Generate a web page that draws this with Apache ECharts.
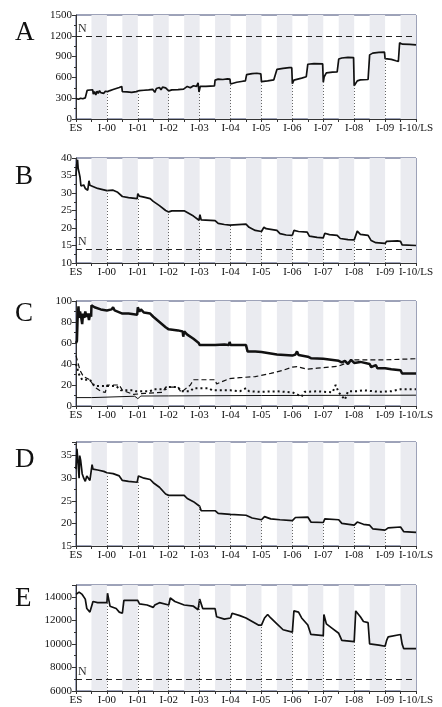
<!DOCTYPE html>
<html>
<head>
<meta charset="utf-8">
<script src="https://cdn.jsdelivr.net/npm/echarts@6/dist/echarts.min.js"></script>
<style>
  html, body { margin: 0; padding: 0; background: #fff; }
  #myChart { width: 442px; height: 707px; }
</style>
</head>
<body>
<div id="myChart"></div>
<script>
  // x labels (ES, intervals, last season)
  const xLabels = ['ES', 'I-00', 'I-01', 'I-02', 'I-03', 'I-04', 'I-05', 'I-06', 'I-07', 'I-08', 'I-09', 'I-10/LS']

  // A
  const seriesA = [[0,295],[0.08,285],[0.15,300],[0.22,292],[0.3,305],[0.34,318],[0.36,412],[0.45,418],[0.54,420],[0.56,360],[0.6,395],[0.64,345],[0.68,400],[0.72,370],[0.76,410],[0.8,380],[0.85,395],[0.9,370],[0.95,400],[1.0,385],[1.02,395],[1.1,410],[1.2,425],[1.3,440],[1.4,455],[1.48,470],[1.5,395],[1.55,370],[1.65,390],[1.8,385],[1.95,395],[2.0,400],[2.05,410],[2.2,415],[2.35,420],[2.48,428],[2.52,440],[2.55,385],[2.6,440],[2.7,455],[2.75,420],[2.8,460],[2.9,450],[2.96,460],[3.0,405],[3.1,420],[3.3,425],[3.48,430],[3.52,455],[3.6,470],[3.7,450],[3.8,480],[3.9,470],[3.95,520],[3.98,390],[4.02,470],[4.2,470],[4.48,478],[4.5,560],[4.6,575],[4.75,570],[4.9,580],[4.98,575],[5.0,505],[5.05,525],[5.2,530],[5.4,545],[5.48,550],[5.52,640],[5.7,655],[5.85,660],[5.98,650],[6.0,540],[6.05,525],[6.2,550],[6.4,565],[6.46,575],[6.5,715],[6.7,730],[6.9,740],[6.98,740],[7.0,510],[7.05,560],[7.1,585],[7.3,590],[7.45,610],[7.5,790],[7.7,800],[7.98,795],[8.0,530],[8.03,610],[8.1,665],[8.3,675],[8.45,680],[8.5,865],[8.6,880],[8.8,890],[8.98,885],[9.0,480],[9.05,500],[9.1,550],[9.2,565],[9.45,570],[9.5,925],[9.6,950],[9.8,960],[9.98,965],[10.0,870],[10.2,860],[10.35,840],[10.43,830],[10.47,1100],[10.55,1080],[10.8,1075],[11,1070]]
  const nA = 1200

  // B
  const seriesB = [[0,35],[0.02,38],[0.05,39.5],[0.07,37],[0.1,35.8],[0.13,34.5],[0.16,32],[0.2,31.8],[0.25,32.3],[0.3,31.3],[0.35,31.5],[0.38,30.8],[0.42,33.5],[0.45,32.2],[0.5,31.7],[0.7,31.3],[0.9,30.9],[1.0,30.7],[1.05,31.1],[1.2,30.8],[1.35,30.2],[1.5,29],[1.7,28.7],[1.98,28.4],[2.0,29.8],[2.05,29.1],[2.2,28.8],[2.4,28.4],[2.5,27.6],[2.7,26.4],[2.9,25],[3.0,24.6],[3.1,24.9],[3.5,24.9],[3.6,24.4],[3.8,23.4],[3.98,22.2],[4.01,23.8],[4.05,22.3],[4.5,22.1],[4.6,21.3],[4.8,21],[4.98,20.8],[5.02,21.3],[5.5,21.1],[5.6,20.2],[5.8,19.3],[6.0,19],[6.08,20.2],[6.15,19.8],[6.5,19.3],[6.6,18.4],[6.8,18],[7.0,17.9],[7.05,19.3],[7.2,19],[7.48,18.8],[7.55,17.7],[7.8,17.3],[8.0,17.2],[8.05,18.5],[8.2,18.1],[8.45,17.9],[8.55,17],[8.8,16.7],[9.0,16.6],[9.1,19.1],[9.2,18.2],[9.45,17.9],[9.55,16.4],[9.7,15.8],[10.0,15.6],[10.05,16.2],[10.4,16.3],[10.5,16.2],[10.55,15.2],[11,15]]
  const nB = 14

  // C (four lines)
  const seriesC1 = [[0,60],[0.03,62],[0.05,82],[0.08,95],[0.1,84],[0.13,90],[0.16,86],[0.2,78],[0.23,88],[0.27,84],[0.3,90],[0.34,85],[0.38,88],[0.42,82],[0.46,88],[0.49,85],[0.5,96],[0.6,94],[0.8,92],[1.0,91],[1.15,92],[1.2,94],[1.25,91],[1.5,88],[1.7,88],[1.98,87],[2.0,94],[2.05,90],[2.1,92],[2.2,89],[2.4,88],[2.5,85],[2.7,80],[2.9,75],[3.0,73],[3.3,72],[3.45,71],[3.47,66],[3.5,71],[3.6,68],[3.8,64],[3.97,60],[4.0,58],[4.5,58],[4.8,58.5],[4.95,58],[4.97,61],[5.0,58],[5.5,58],[5.55,52],[5.8,52],[6.0,51.5],[6.3,50],[6.5,49],[7.0,48],[7.1,49],[7.15,52],[7.2,48.5],[7.5,47],[7.6,45.5],[8.0,45],[8.5,43],[8.6,41.5],[8.7,43],[8.8,40],[8.9,44],[9.0,41],[9.2,42],[9.5,40],[9.55,37],[9.7,39],[9.75,36],[10.0,36],[10.2,35],[10.5,34],[10.55,31],[11,31]]
  const seriesC2 = [[0,48],[0.13,34],[0.24,28],[0.45,25],[0.6,18],[0.8,14],[0.95,13],[1.0,20],[1.4,20],[1.5,15],[1.86,11],[2.2,12],[2.8,13],[2.9,18],[3.3,18],[3.4,13],[3.7,20],[3.8,25],[4.5,25],[4.55,21],[4.95,26],[5.3,27],[5.8,28],[6.3,31],[6.7,34],[7.0,37],[7.15,37.5],[7.47,35],[7.8,36],[8.5,38],[9.0,44],[10.0,44],[11,45]]
  const seriesC3 = [[0,40],[0.1,30],[0.2,25],[0.45,25],[0.5,24],[0.6,19],[0.95,19],[1.3,19],[1.45,15],[1.85,15],[1.95,14],[2.4,14],[2.5,16],[2.9,16],[3.0,18],[3.3,18],[3.4,14],[3.7,14],[3.8,17],[4.3,17],[4.4,15],[5.0,15],[5.3,14],[5.5,17],[5.6,14],[6.0,13.5],[6.5,14],[7.0,13],[7.3,9],[7.4,13.5],[7.8,14],[8.3,13],[8.4,20],[8.5,13],[8.7,6],[8.8,14],[9.1,14],[9.3,15],[9.8,13.5],[10.2,14],[10.5,16],[11,16]]
  const seriesC4 = [[0,8],[0.5,8],[0.55,9.3],[1.9,9.3],[2.0,7],[2.1,9.5],[3.0,9.6],[6.0,10],[11,10.3]]

  // D
  const seriesD = [[0,32],[0.03,36.5],[0.06,34],[0.1,30],[0.12,35],[0.15,34],[0.2,31],[0.25,30],[0.3,29.3],[0.35,30.5],[0.4,30.5],[0.45,29.5],[0.5,29.2],[0.52,33],[0.55,32],[0.7,31.8],[0.9,31.5],[1.0,31.2],[1.2,31],[1.4,30.5],[1.5,29.5],[1.7,29.3],[1.98,29.1],[2.02,30.5],[2.2,30],[2.4,29.7],[2.5,29],[2.7,28],[2.9,26.5],[3.0,26.2],[3.5,26.2],[3.6,25.5],[3.8,24.8],[4.0,23.8],[4.05,22.8],[4.5,22.8],[4.6,22.2],[5.0,22],[5.5,21.8],[5.7,21.2],[6.0,20.8],[6.1,21.5],[6.3,21],[6.6,20.8],[7.0,20.6],[7.1,21.3],[7.5,21.4],[7.6,20.3],[8.0,20.2],[8.05,21],[8.5,20.8],[8.6,20],[9.0,19.6],[9.1,20.3],[9.3,19.8],[9.5,19.6],[9.6,18.8],[10.0,18.5],[10.1,19],[10.5,19.2],[10.6,18.2],[11,18]]

  // E
  const seriesE = [[0,14200],[0.1,14400],[0.2,14200],[0.3,13800],[0.35,13000],[0.45,12700],[0.5,12800],[0.55,13600],[0.7,13500],[0.9,13500],[1.0,13500],[1.02,14300],[1.1,13200],[1.3,13000],[1.4,12700],[1.5,12600],[1.55,13700],[1.6,13800],[2.0,13700],[2.05,13400],[2.3,13300],[2.5,13100],[2.55,13300],[2.7,13500],[3.0,13300],[3.05,13900],[3.2,13600],[3.5,13300],[3.8,13200],[3.95,12900],[4.0,13800],[4.1,13000],[4.5,13000],[4.55,12300],[4.8,12100],[5.0,12200],[5.05,12600],[5.3,12400],[5.5,12200],[5.7,11900],[5.9,11600],[6.0,11600],[6.05,11700],[6.1,12200],[6.2,12500],[6.3,12200],[6.5,11700],[6.7,11200],[7.0,11000],[7.05,12800],[7.2,12700],[7.3,12200],[7.5,11600],[7.6,10800],[8.0,10700],[8.02,12500],[8.1,11700],[8.3,11300],[8.5,10900],[8.6,10300],[9.0,10200],[9.05,12800],[9.2,12300],[9.3,11900],[9.45,11800],[9.5,10000],[9.8,9900],[10.0,9800],[10.05,10300],[10.1,10600],[10.5,10800],[10.55,10000],[10.6,9600],[11,9600]]
  const nE = 7000

  const FONT = 'Liberation Serif'

  // last value at or before t, for the dotted drop lines
  function valAt(d, t) {
    let v = d[0][1]
    for (const p of d) {
      if (p[0] <= t) v = p[1]
    }
    return v
  }

  function dropLines(d, ymin) {
    const out = []
    for (let i = 1; i <= 10; i++) {
      out.push([
        { coord: [i, ymin], lineStyle: { type: [1, 2], color: '#666', width: 1 }, label: { show: false } },
        { coord: [i, valAt(d, i)] }
      ])
    }
    return out
  }

  function nLine(v) {
    return {
      yAxis: v,
      lineStyle: { type: [6, 4], color: '#222', width: 1.2 },
      label: { show: true, formatter: 'N', position: 'insideStartTop', distance: [2, 1], fontFamily: FONT, fontSize: 12, color: '#333' }
    }
  }

  // panel layout: top, height, y range
  const panels = [
    { top: 15, height: 104, min: 0, max: 1500, interval: 300 },
    { top: 158, height: 105, min: 10, max: 40, interval: 5 },
    { top: 301, height: 105, min: 0, max: 100, interval: 20 },
    { top: 442, height: 104, min: 15, max: 38, interval: 5 },
    { top: 585, height: 106, min: 6000, max: 15000, interval: 2000 }
  ]
  const letters = ['A', 'B', 'C', 'D', 'E']
  const letterTop = [14, 158, 295, 441, 580]

  const grids = []
  const xAxes = []
  const yAxes = []
  const titles = []
  panels.forEach((p, i) => {
    grids.push({ left: 76, right: 26, top: p.top, height: p.height, show: true, borderColor: '#3c4672', borderWidth: 1 })
    xAxes.push({
      gridIndex: i, type: 'value', min: 0, max: 11, interval: 0.5,
      axisLine: { lineStyle: { color: '#333' } },
      axisTick: { length: 3, lineStyle: { color: '#333' } },
      axisLabel: {
        formatter: v => Number.isInteger(v) ? xLabels[v] : '',
        fontFamily: FONT, fontSize: 11, color: '#111', margin: 4
      },
      splitLine: { show: false },
      splitArea: { show: true, areaStyle: { color: ['rgba(255,255,255,0)', '#eaebf0'] } }
    })
    yAxes.push({
      gridIndex: i, type: 'value', min: p.min, max: p.max, interval: p.interval,
      axisLine: { show: true, lineStyle: { color: '#333' } },
      axisTick: { show: true, length: 4, lineStyle: { color: '#333' } },
      minorTick: { show: true, splitNumber: 2, length: 2, lineStyle: { color: '#333' } },
      axisLabel: {
        formatter: v => ((v - p.min) % p.interval === 0 ? String(v) : ''),
        fontFamily: FONT, fontSize: 11, color: '#111', margin: 4
      },
      splitLine: { show: false }
    })
    titles.push({ text: letters[i], left: 10, top: letterTop[i], textStyle: { fontFamily: FONT, fontSize: 27, fontWeight: 'normal', color: '#111' } })
  })

  function line(i, data, style, mark) {
    const s = {
      type: 'line', xAxisIndex: i, yAxisIndex: i, data: data,
      showSymbol: false, symbol: 'none', silent: true,
      lineStyle: Object.assign({ color: '#111', width: 1.7 }, style)
    }
    if (mark) s.markLine = { symbol: 'none', silent: true, data: mark }
    return s
  }

  const series = [
    line(0, seriesA, {}, [nLine(nA)].concat(dropLines(seriesA, 0))),
    line(1, seriesB, {}, [nLine(nB)].concat(dropLines(seriesB, 10))),
    line(2, seriesC4, { width: 1 }),
    line(2, seriesC3, { width: 2, type: [2, 3] }),
    line(2, seriesC2, { width: 1.2, type: [5, 3] }),
    line(2, seriesC1, { width: 2.5 }),
    line(3, seriesD, {}, dropLines(seriesD, 15)),
    line(4, seriesE, {}, [nLine(nE)].concat(dropLines(seriesE, 6000)))
  ]

  let myChart = echarts.init(document.getElementById('myChart'))
  myChart.setOption({
    animation: false,
    backgroundColor: '#fff',
    title: titles,
    grid: grids,
    xAxis: xAxes,
    yAxis: yAxes,
    series: series
  })
</script>
</body>
</html>
